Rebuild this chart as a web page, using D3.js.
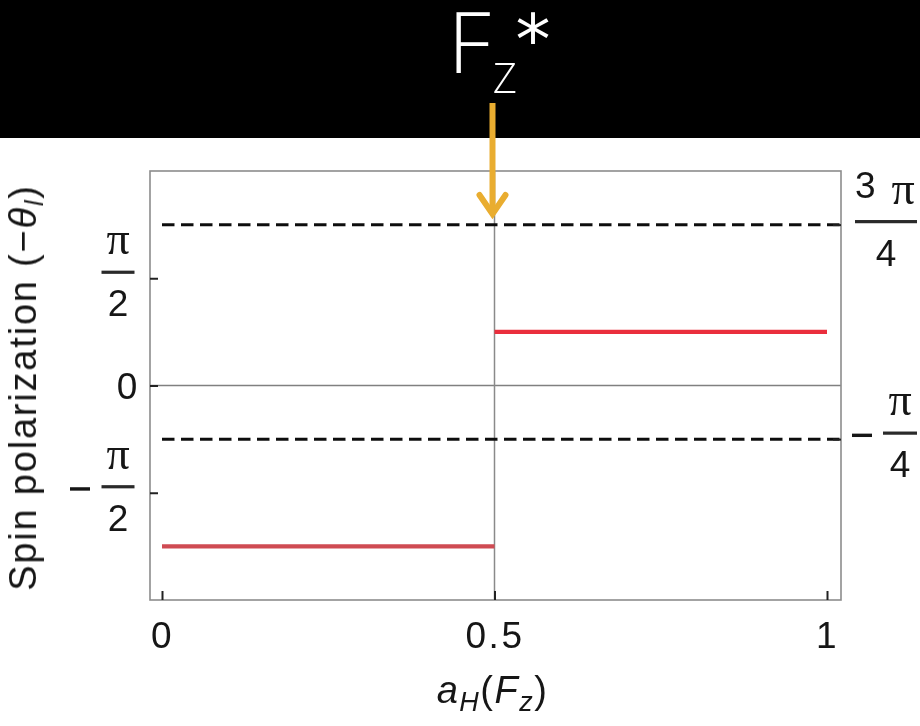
<!DOCTYPE html>
<html>
<head>
<meta charset="utf-8">
<script src="https://cdn.jsdelivr.net/npm/d3@7"></script>
<style>
  html, body { margin: 0; padding: 0; background: #ffffff; }
  svg { display: block; }
</style>
</head>
<body>
<svg id="chart" width="920" height="726"></svg>
<script>
const PI = Math.PI;

// Horizontal axis: Higgs amplitude a_H(F_z)
const xTicks = [0, 0.5, 1];
const xTickLabels = ["0", "0.5", "1"];

// Left axis ticks and fraction labels (sign, numerator, denominator)
const leftTicks = [PI / 2, 0, -PI / 2];
const leftTickLabels = [
  { sign: "", num: "π", den: "2" },
  { sign: "", num: "0", den: "" },
  { sign: "−", num: "π", den: "2" }
];

// Right axis ticks: reference levels drawn dashed
const rightTicks = [3 * PI / 4, -PI / 4];
const rightTickLabels = [
  { sign: "", num: "3", den: "4" },
  { sign: "−", num: "", den: "4" }
];

// Step curve of the spin polarization: one flat segment on each side of F_z*
const segStart = [0, 0.5];
const segEnd = [0.5, 1];
const segValue = [-3 * PI / 4, PI / 4];

// Critical field F_z*
const criticalX = 0.5;

const svg = d3.select("#chart");
const W = 920, H = 726;

// Plot frame
const frame = { left: 150, right: 841, top: 171, bottom: 600 };

const x = d3.scaleLinear().domain([0, 1]).range([162, 827]);
const y = d3.scaleLinear().domain([-PI, PI]).range([frame.bottom, frame.top]);

const FONT = "'Liberation Sans', Arial, Helvetica, sans-serif";
const MATH = "'Liberation Serif', 'Times New Roman', serif";
const INK = "#151515";

svg.append("rect").attr("width", W).attr("height", H).attr("fill", "#ffffff");

// Soft rendering of the plot area
const defs = svg.append("defs");
defs.append("filter").attr("id", "soft")
  .attr("filterUnits", "userSpaceOnUse")
  .attr("x", 0).attr("y", 140).attr("width", W).attr("height", H - 140)
  .append("feGaussianBlur").attr("stdDeviation", 0.55);

const plot = svg.append("g").attr("filter", "url(#soft)");

// Zero line
plot.append("line")
  .attr("x1", frame.left).attr("x2", frame.right)
  .attr("y1", y(0)).attr("y2", y(0))
  .attr("stroke", "#808080").attr("stroke-width", 1.6);

// Vertical marker at the critical field
plot.append("line")
  .attr("x1", x(criticalX)).attr("x2", x(criticalX))
  .attr("y1", frame.top).attr("y2", frame.bottom)
  .attr("stroke", "#8a8a8a").attr("stroke-width", 1.5);

// Dashed reference levels
plot.selectAll("line.ref").data(rightTicks).join("line")
  .attr("class", "ref")
  .attr("x1", x(0)).attr("x2", frame.right)
  .attr("y1", d => y(d)).attr("y2", d => y(d))
  .attr("stroke", "#111").attr("stroke-width", 3)
  .attr("stroke-dasharray", "12.5 6.5");

// Frame
plot.append("rect")
  .attr("x", frame.left).attr("y", frame.top)
  .attr("width", frame.right - frame.left).attr("height", frame.bottom - frame.top)
  .attr("fill", "none").attr("stroke", "#8c8c8c").attr("stroke-width", 1.6);

// Step segments
const segColors = ["#cf4b52", "#ea2f3c"];
plot.selectAll("line.seg").data(segValue).join("line")
  .attr("class", "seg")
  .attr("x1", (d, i) => x(segStart[i])).attr("x2", (d, i) => x(segEnd[i]))
  .attr("y1", d => y(d)).attr("y2", d => y(d))
  .attr("stroke", (d, i) => segColors[i]).attr("stroke-width", 4.2);

// Bottom axis
const xAxis = d3.axisBottom(x)
  .tickValues(xTicks)
  .tickFormat((d, i) => xTickLabels[i])
  .tickSizeInner(-9).tickSizeOuter(0).tickPadding(22);
const gx = plot.append("g").attr("transform", `translate(0,${frame.bottom})`).call(xAxis);
gx.select(".domain").remove();
gx.selectAll(".tick line").attr("stroke", "#222").attr("stroke-width", 2);
gx.selectAll(".tick text")
  .attr("font-family", FONT).attr("font-size", 37).attr("fill", INK)
  .attr("letter-spacing", 2.5);

// Left axis ticks
const yAxisL = d3.axisLeft(y).tickValues(leftTicks).tickFormat("")
  .tickSizeInner(-8).tickSizeOuter(0);
const gyl = plot.append("g").attr("transform", `translate(${frame.left},0)`).call(yAxisL);
gyl.select(".domain").remove();
gyl.selectAll(".tick line").attr("stroke", "#222").attr("stroke-width", 2);

// Right axis ticks
const yAxisR = d3.axisRight(y).tickValues(rightTicks).tickFormat("")
  .tickSizeInner(-8).tickSizeOuter(0);
const gyr = plot.append("g").attr("transform", `translate(${frame.right},0)`).call(yAxisR);
gyr.select(".domain").remove();
gyr.selectAll(".tick line").attr("stroke", "#222").attr("stroke-width", 2);

// Fraction tick labels: numerator (with π), bar, denominator, optional minus
function fractionLabel(g, lab, cx, barW, signX, piX) {
  if (lab.den === "") {
    g.append("text").attr("x", cx).attr("y", 13)
      .attr("text-anchor", "middle").attr("font-family", FONT)
      .attr("font-size", 37).attr("fill", INK).text(lab.num);
    return;
  }
  if (lab.num === "π") {
    g.append("text").attr("x", cx).attr("y", -18)
      .attr("text-anchor", "middle").attr("font-family", MATH)
      .attr("font-size", 46).attr("fill", INK).text("π");
  } else {
    // leading coefficient followed by π
    if (lab.num !== "") {
      g.append("text").attr("x", cx - barW / 2).attr("y", -24)
        .attr("font-family", FONT).attr("font-size", 37).attr("fill", INK).text(lab.num);
    }
    g.append("text").attr("x", piX).attr("y", -18)
      .attr("text-anchor", "middle").attr("font-family", MATH)
      .attr("font-size", 46).attr("fill", INK).text("π");
  }
  g.append("rect").attr("x", cx - barW / 2).attr("y", -1.6)
    .attr("width", barW).attr("height", 3.2).attr("fill", "#2a2a2a");
  g.append("text").attr("x", cx).attr("y", 44)
    .attr("text-anchor", "middle").attr("font-family", FONT)
    .attr("font-size", 37).attr("fill", INK).text(lab.den);
  if (lab.sign) {
    g.append("rect").attr("x", signX - 10).attr("y", 0.5)
      .attr("width", 20).attr("height", 3.4).attr("fill", INK);
  }
}

leftTicks.forEach((t, i) => {
  const lab = leftTickLabels[i];
  const off = lab.den === "" ? 0 : -6;
  const g = plot.append("g").attr("transform", `translate(0,${y(t) + off})`);
  fractionLabel(g, lab, lab.den === "" ? 127 : 118, 33, 80, 118);
});

rightTicks.forEach((t, i) => {
  const lab = rightTickLabels[i];
  const g = plot.append("g").attr("transform", `translate(0,${y(t) - (lab.sign ? 6 : 3)})`);
  const cx = lab.sign ? 900 : 886;
  const bw = lab.sign ? 34 : 62;
  fractionLabel(g, lab, cx, bw, 862, lab.sign ? 900 : 903);
});

// Axis titles
const xTitle = plot.append("text")
  .attr("x", x(0.5) - 2).attr("y", 703)
  .attr("text-anchor", "middle").attr("font-family", FONT)
  .attr("font-size", 38).attr("fill", INK).attr("letter-spacing", 1.5);
xTitle.append("tspan").attr("font-style", "italic").text("a");
xTitle.append("tspan").attr("font-style", "italic").attr("font-size", 27).attr("dy", 8).text("H");
xTitle.append("tspan").attr("dy", -8).text("(");
xTitle.append("tspan").attr("font-style", "italic").text("F");
xTitle.append("tspan").attr("font-style", "italic").attr("font-size", 27).attr("dy", 8).text("z");
xTitle.append("tspan").attr("dy", -8).text(")");

const yTitle = plot.append("text")
  .attr("transform", `translate(36,${(frame.top + frame.bottom) / 2 + 2}) rotate(-90)`)
  .attr("text-anchor", "middle").attr("font-family", FONT)
  .attr("font-size", 38).attr("fill", INK).attr("letter-spacing", 1.8);
yTitle.append("tspan").text("Spin polarization (−");
yTitle.append("tspan").attr("font-style", "italic").text("θ");
yTitle.append("tspan").attr("font-style", "italic").attr("font-size", 25).attr("dy", 7).text("l");
yTitle.append("tspan").attr("dy", -7).text(")");

// Title band with the critical-field annotation
svg.append("rect").attr("x", 0).attr("y", 0).attr("width", W).attr("height", 138).attr("fill", "#000");

const title = svg.append("text").attr("x", 448).attr("y", 73)
  .attr("font-family", "'Open Sans', sans-serif").attr("font-weight", 300)
  .attr("fill", "#fff");
title.append("tspan").attr("font-size", 85).text("F");
title.append("tspan").attr("font-size", 42).attr("dx", 2).attr("dy", 20).text("Z");
svg.append("text").attr("x", 533).attr("y", 64)
  .attr("text-anchor", "middle")
  .attr("font-family", "'DejaVu Sans', sans-serif")
  .attr("font-size", 70).attr("fill", "#fff").text("*");

// Arrow pointing at F_z*
const ax = x(criticalX) - 2;
const arrowColor = "#e9ad30";
svg.append("line")
  .attr("x1", ax).attr("x2", ax).attr("y1", 103).attr("y2", 213)
  .attr("stroke", arrowColor).attr("stroke-width", 6);
svg.append("path")
  .attr("d", d3.line()([[ax - 13, 195], [ax, 214], [ax + 13, 195]]))
  .attr("fill", "none").attr("stroke", arrowColor).attr("stroke-width", 6)
  .attr("stroke-linecap", "round").attr("stroke-linejoin", "miter");
</script>
</body>
</html>
